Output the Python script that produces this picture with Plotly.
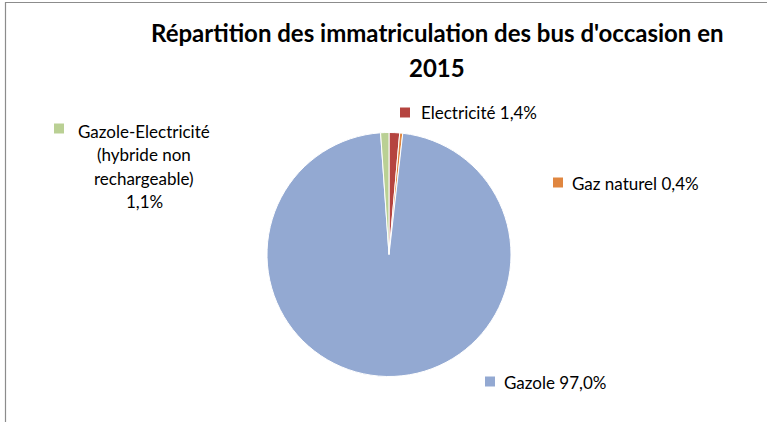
import plotly.graph_objects as go

W, H = 767, 422

categories = ["Electricité", "Gaz naturel", "Gazole", "Gazole-Electricité (hybride non rechargeable)"]
values = [1.4, 0.4, 97.0, 1.1]
colors = ["#B5443F", "#E0863F", "#93A9D2", "#BAD094"]
title_lines = ["Répartition des immatriculation des bus d'occasion en", "2015"]

def px(x):
    return x / W

def py(y):
    return 1 - y / H

cx, cy, r = 389, 254.5, 122

fig = go.Figure(go.Pie(
    labels=categories,
    values=values,
    sort=False,
    direction="clockwise",
    rotation=0,
    marker=dict(colors=colors, line=dict(color="white", width=1)),
    textinfo="none",
    hoverinfo="label+percent",
    showlegend=False,
    domain=dict(x=[px(cx - r), px(cx + r)], y=[py(cy + r), py(cy - r)]),
))

def pct(v):
    return f"{v:.1f}".replace(".", ",") + "%"

FAM = "Lato, Carlito, Calibri, sans-serif"
font = dict(family=FAM, size=17, color="#000000")
shapes = []
annotations = []

def square(x, y, color, s=10):
    shapes.append(dict(type="rect", xref="paper", yref="paper",
                       x0=px(x), x1=px(x + s), y0=py(y + s / 2), y1=py(y - s / 2),
                       fillcolor=color, line=dict(width=0)))

def text(x, y, t, xanchor="left"):
    annotations.append(dict(xref="paper", yref="paper", x=px(x), y=py(y), text=t,
                            showarrow=False, xanchor=xanchor, yanchor="middle",
                            font=font))

# Electricité
square(400, 112.5, colors[0])
text(419, 113, f"{categories[0]} {pct(values[0])}")
# Gaz naturel
square(553, 182.5, colors[1])
text(570, 183, f"{categories[1]} {pct(values[1])}")
# Gazole
square(485, 381.5, colors[2])
text(502, 382, f"{categories[2]} {pct(values[2])}")
# Gazole-Electricité, multi-line
square(54, 128.5, colors[3])
lines = ["Gazole-Electricité", "(hybride non", "rechargeable)", pct(values[3])]
for i, ln in enumerate(lines):
    text(144, 131 + i * 23.5, ln, xanchor="center")

# Title
for i, ln in enumerate(title_lines):
    annotations.append(dict(xref="paper", yref="paper", x=px(437), y=py(32 + i * 35),
                            text=f"<b>{ln}</b>", showarrow=False,
                            xanchor="center", yanchor="middle",
                            font=dict(family=FAM, size=24, color="#000000")))

# chart border
shapes.append(dict(type="rect", xref="paper", yref="paper",
                   x0=px(5.5), x1=px(W + 5), y0=py(H + 5), y1=py(2.5),
                   line=dict(color="#8C8C8C", width=1.2), fillcolor="rgba(0,0,0,0)"))

fig.update_layout(
    width=W, height=H,
    margin=dict(l=0, r=0, t=0, b=0),
    paper_bgcolor="white",
    plot_bgcolor="white",
    shapes=shapes,
    annotations=annotations,
)

fig.write_html("out.html", config={"displayModeBar": False},
               post_script="document.body.style.margin='0';document.body.style.overflow='hidden';")
